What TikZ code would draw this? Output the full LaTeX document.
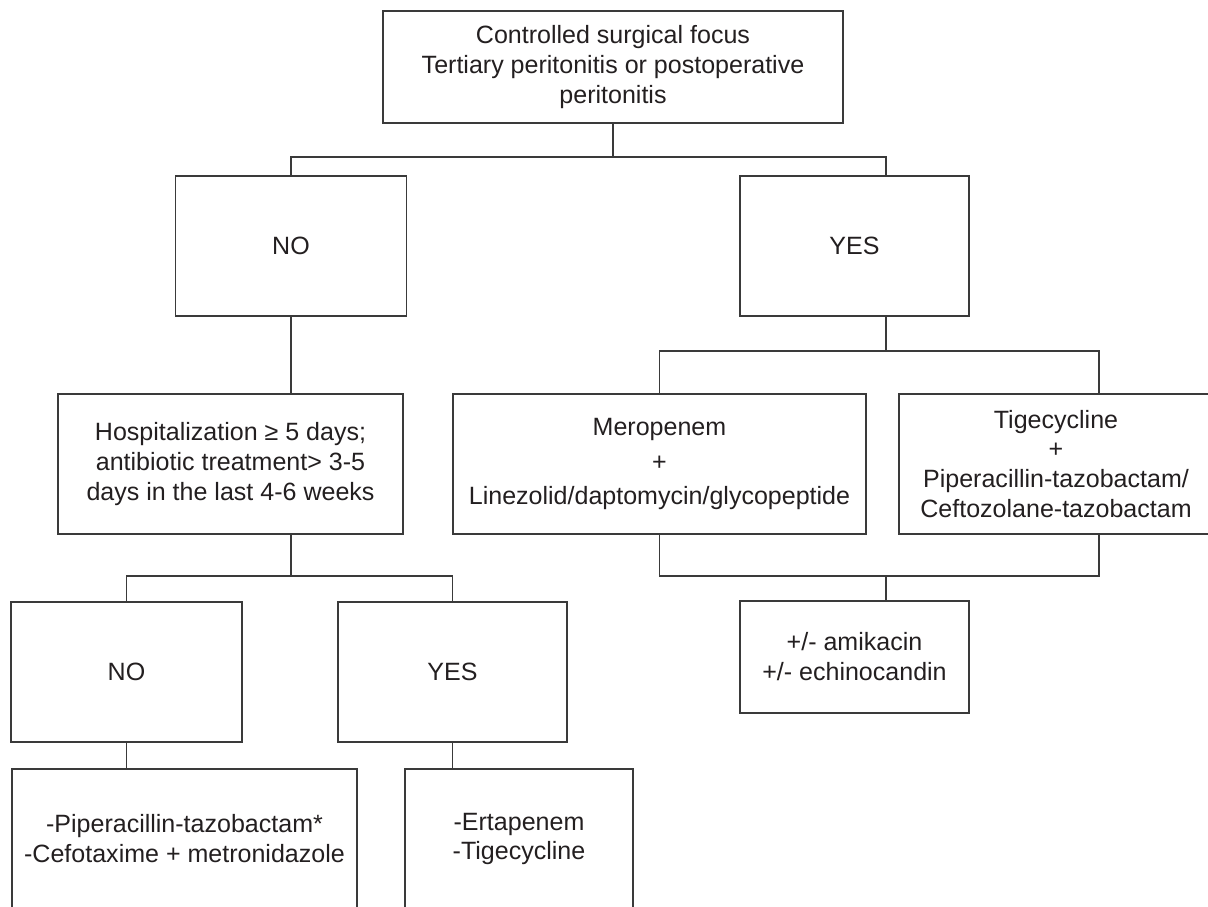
\documentclass[tikz,border=0pt]{standalone}
\usepackage{fontspec}
\setmainfont{Liberation Sans}
\usepackage{tikz}
\usetikzlibrary{calc}
\definecolor{lnegray}{RGB}{58,58,58}
\definecolor{txtgray}{RGB}{35,31,32}
\newcommand{\bxfont}{\fontsize{17.8}{21.3}\selectfont}
\tikzset{
  bx/.style={draw=lnegray, line width=1.1pt, fill=white, inner sep=0pt,
             align=center, text=txtgray, font=\bxfont, minimum height=3.5cm},
  conn/.style={lnegray, line width=1.1pt},
}

\begin{document}
\begin{tikzpicture}[x=0.025cm, y=-0.025cm]
  \useasboundingbox (0,0) rectangle (1208,906);
  \clip (0,0) rectangle (1208,906);
  % boxes
  \node[bx, minimum width=11.5cm, minimum height=2.8cm] (top) at (613,67)
    {Controlled surgical focus\\Tertiary peritonitis or postoperative\\peritonitis};
  \node[bx, minimum width=5.775cm] (no1) at (291,246) {NO};
  \node[bx, minimum width=5.725cm] (yes1) at (854.5,246) {YES};
  \node[bx, minimum width=8.625cm] (hosp) at (230.5,464)
    {Hospitalization ≥ 5 days;\\antibiotic treatment> 3-5\\days in the last 4-6 weeks};
  \node[bx, minimum width=10.325cm] (mero) at (659.5,464)
    {Meropenem\\[3.5pt]+\\[3.5pt]Linezolid/daptomycin/glycopeptide};
  \node[bx, minimum width=7.85cm] (tige) at (1056,464)
    {Tigecycline\\+\\Piperacillin-tazobactam/\\Ceftozolane-tazobactam};
  \node[bx, minimum width=5.725cm, minimum height=2.8cm] (amik) at (854.5,657)
    {+/- amikacin\\+/- echinocandin};
  \node[bx, minimum width=5.775cm] (no2) at (126.5,672) {NO};
  \node[bx, minimum width=5.725cm] (yes2) at (452.5,672) {YES};
  \node[bx, minimum width=8.625cm] (pip) at (184.5,839)
    {-Piperacillin-tazobactam*\\-Cefotaxime + metronidazole};
  \node[bx, minimum width=5.7cm] (ert) at (519,839)
    {-Ertapenem\\-Tigecycline};
  % connectors
  \draw[conn] (top.south) -- ++(0,33) coordinate (f1);
  \draw[conn] (no1.north) |- (f1) -| ($(yes1.north)+(31.5,0)$);
  \draw[conn] (no1.south) -- (no1.south |- hosp.north);
  \draw[conn] ($(yes1.south)+(31.5,0)$) -- ++(0,34) coordinate (f2);
  \draw[conn] (mero.north) |- (f2) -| ($(tige.north)+(43,0)$);
  \draw[conn] ($(hosp.south)+(60.5,0)$) -- ++(0,41) coordinate (f3);
  \draw[conn] (no2.north) |- (f3) -| (yes2.north);
  \draw[conn] (mero.south) -- ++(0,41) coordinate (f4) -| ($(tige.south)+(43,0)$);
  \coordinate (f5) at ($(amik.north)+(31.5,0)$);
  \draw[conn] (f5) -- (f5 |- f4);
  \draw[conn] (no2.south) -- (no2.south |- pip.north);
  \draw[conn] (yes2.south) -- (yes2.south |- ert.north);
\end{tikzpicture}
\end{document}
